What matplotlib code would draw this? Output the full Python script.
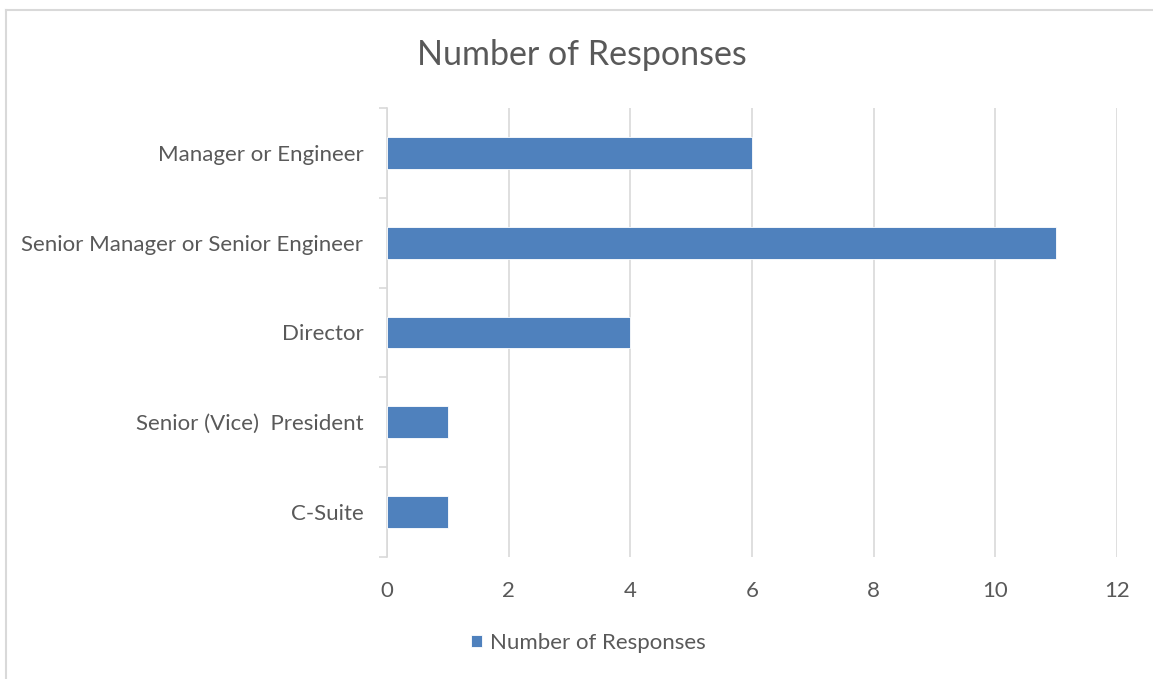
import matplotlib.pyplot as plt
import numpy as np
from matplotlib.lines import Line2D
from matplotlib.ticker import FixedLocator

# data, bottom to top as drawn
roles = ['C-Suite', 'Senior (Vice)  President', 'Director',
         'Senior Manager or Senior Engineer', 'Manager or Engineer']
responses = [1, 1, 4, 11, 6]
x_ticks = [0, 2, 4, 6, 8, 10, 12]

bar_color = '#4F81BD'
text_color = '#595959'
grid_color = '#D9D9D9'

plt.rcParams['font.family'] = ['Lato', 'DejaVu Sans']

fig = plt.figure(figsize=(11.53, 6.79), dpi=100)
ax = fig.add_axes([387 / 1153, 1 - 557 / 679, 730 / 1153, 449 / 679])

y = np.arange(len(roles))
ax.barh(y, responses, height=0.355, color=bar_color, edgecolor='white',
        linewidth=0.6, zorder=3, label='Number of Responses')

ax.set_xlim(0, 12)
ax.set_ylim(-0.5, len(roles) - 0.5)
ax.set_xticks(x_ticks)
ax.set_xticklabels([str(t) for t in x_ticks])
ax.set_yticks(y)
ax.set_yticklabels(roles)
ax.yaxis.set_minor_locator(FixedLocator(np.arange(-0.5, len(roles), 1.0)))

ax.grid(axis='x', color=grid_color, linewidth=1.2, zorder=0)
for side in ['top', 'right', 'bottom']:
    ax.spines[side].set_visible(False)
ax.spines['left'].set_color(grid_color)
ax.spines['left'].set_linewidth(1.2)

ax.tick_params(axis='x', length=0, labelsize=16, colors=text_color, pad=17)
ax.tick_params(axis='y', which='major', length=0, labelsize=16,
               colors=text_color, pad=17)
ax.tick_params(axis='y', which='minor', length=6, width=1.2, color=grid_color)

fig.text(582 / 1153, 1 - 55 / 679, 'Number of Responses', ha='center',
         va='center', fontsize=24.5, color=text_color)

fig.legend(loc='center', bbox_to_anchor=(588 / 1153, 1 - 643 / 679),
           frameon=False, fontsize=16, labelcolor=text_color,
           handlelength=0.5, handleheight=0.5, handletextpad=0.35)

# chart area border (left and top edges visible)
border = '#D9D9D9'
fig.add_artist(Line2D([5.5 / 1153, 5.5 / 1153], [0, 1 - 9.5 / 679],
                      color=border, linewidth=1.5, transform=fig.transFigure))
fig.add_artist(Line2D([5.5 / 1153, 1], [1 - 9.5 / 679, 1 - 9.5 / 679],
                      color=border, linewidth=1.5, transform=fig.transFigure))

plt.savefig('out.png', dpi=100)
